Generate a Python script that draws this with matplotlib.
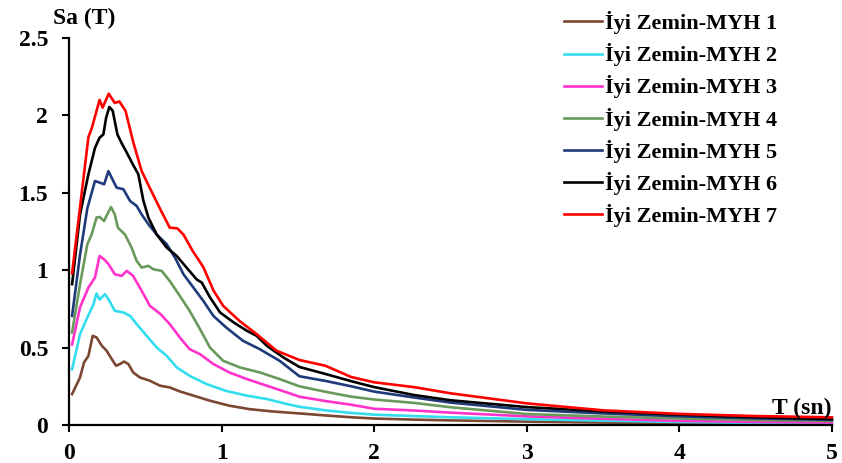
# spectral acceleration curves, Iyi Zemin MYH 1..7

import matplotlib
matplotlib.use("Agg")
import matplotlib.pyplot as plt

plt.rcParams['font.family'] = ['Liberation Serif', 'DejaVu Serif']
plt.rcParams['font.weight'] = 'bold'

labels = ["İyi Zemin-MYH 1", "İyi Zemin-MYH 2", "İyi Zemin-MYH 3", "İyi Zemin-MYH 4",
          "İyi Zemin-MYH 5", "İyi Zemin-MYH 6", "İyi Zemin-MYH 7"]
colors = ["#7B4632", "#33DDEE", "#FF33CC", "#6A9A5B", "#1F3A7A", "#000000", "#FF0000"]

# tail (same for all curves)
t_tail = [1.68, 1.85, 2.0, 2.26, 2.5, 3.0, 3.5, 4.0, 4.5, 5.0]

t1 = [0.02, 0.072, 0.098, 0.127, 0.155, 0.18, 0.215, 0.246, 0.28, 0.308, 0.334, 0.36, 0.389,
      0.42, 0.465, 0.53, 0.596, 0.66, 0.726, 0.815, 0.924, 1.05, 1.18, 1.33, 1.51]
sa1 = [0.2, 0.307, 0.404, 0.447, 0.576, 0.566, 0.512, 0.48, 0.426, 0.383, 0.394, 0.41, 0.394,
       0.34, 0.307, 0.286, 0.254, 0.243, 0.217, 0.19, 0.157, 0.125, 0.103, 0.088, 0.075]
tail1 = [0.062, 0.05, 0.042, 0.035, 0.03, 0.022, 0.016, 0.011, 0.007, 0.004]

t2 = [0.02, 0.072, 0.12, 0.16, 0.18, 0.2, 0.235, 0.258, 0.3, 0.356, 0.4, 0.443, 0.509,
      0.575, 0.64, 0.706, 0.79, 0.9, 1.03, 1.165, 1.296, 1.43, 1.51]
sa2 = [0.36, 0.587, 0.695, 0.78, 0.85, 0.81, 0.845, 0.813, 0.738, 0.727, 0.705, 0.652, 0.576,
       0.5, 0.447, 0.372, 0.318, 0.265, 0.22, 0.19, 0.168, 0.135, 0.118]
tail2 = [0.095, 0.078, 0.067, 0.058, 0.05, 0.038, 0.028, 0.02, 0.014, 0.009]

t3 = [0.02, 0.072, 0.127, 0.17, 0.2, 0.23, 0.258, 0.3, 0.345, 0.378, 0.42, 0.476, 0.53,
      0.6, 0.66, 0.726, 0.79, 0.858, 0.946, 1.05, 1.165, 1.296, 1.43, 1.51]
sa3 = [0.52, 0.76, 0.888, 0.953, 1.092, 1.07, 1.04, 0.974, 0.963, 0.996, 0.963, 0.867, 0.77,
       0.716, 0.652, 0.566, 0.49, 0.458, 0.394, 0.34, 0.297, 0.254, 0.21, 0.183]
tail3 = [0.155, 0.131, 0.105, 0.094, 0.08, 0.056, 0.04, 0.027, 0.02, 0.016]

t4 = [0.02, 0.072, 0.12, 0.148, 0.18, 0.2, 0.23, 0.25, 0.275, 0.3, 0.32, 0.367, 0.41, 0.443,
      0.476, 0.52, 0.552, 0.607, 0.66, 0.726, 0.79, 0.858, 0.924, 1.01, 1.12, 1.25, 1.38, 1.51]
sa4 = [0.598, 0.91, 1.168, 1.23, 1.34, 1.344, 1.318, 1.36, 1.408, 1.36, 1.275, 1.23, 1.146, 1.06,
       1.017, 1.028, 1.006, 0.996, 0.93, 0.834, 0.738, 0.62, 0.5, 0.415, 0.372, 0.34, 0.297, 0.25]
tail4 = [0.215, 0.183, 0.165, 0.143, 0.115, 0.071, 0.055, 0.042, 0.033, 0.027]

t5 = [0.02, 0.072, 0.12, 0.17, 0.2, 0.23, 0.258, 0.29, 0.312, 0.356, 0.4, 0.443, 0.476, 0.52,
      0.575, 0.64, 0.695, 0.75, 0.815, 0.88, 0.946, 1.03, 1.14, 1.25, 1.38, 1.51]
sa5 = [0.705, 1.1, 1.4, 1.576, 1.566, 1.555, 1.64, 1.576, 1.533, 1.523, 1.447, 1.415, 1.36, 1.297,
       1.23, 1.168, 1.08, 0.974, 0.888, 0.802, 0.705, 0.63, 0.544, 0.49, 0.415, 0.315]
tail5 = [0.285, 0.25, 0.216, 0.178, 0.145, 0.098, 0.075, 0.056, 0.043, 0.033]

t6 = [0.02, 0.072, 0.127, 0.17, 0.2, 0.225, 0.243, 0.264, 0.286, 0.317, 0.345, 0.378, 0.42,
      0.454, 0.487, 0.52, 0.575, 0.64, 0.706, 0.77, 0.837, 0.87, 0.924, 0.99, 1.08, 1.165,
      1.23, 1.296, 1.404, 1.51]
sa6 = [0.91, 1.36, 1.62, 1.79, 1.856, 1.877, 1.985, 2.054, 2.03, 1.877, 1.82, 1.76, 1.68,
       1.62, 1.45, 1.34, 1.23, 1.146, 1.092, 1.017, 0.94, 0.92, 0.824, 0.727, 0.662, 0.609,
       0.576, 0.512, 0.437, 0.375]
tail6 = [0.33, 0.283, 0.245, 0.194, 0.16, 0.116, 0.088, 0.067, 0.05, 0.038]

t7 = [0.02, 0.127, 0.15, 0.2, 0.22, 0.26, 0.3, 0.33, 0.37, 0.42, 0.476, 0.53, 0.6, 0.66,
      0.71, 0.75, 0.81, 0.88, 0.946, 1.01, 1.12, 1.23, 1.36, 1.51]
sa7 = [0.98, 1.86, 1.92, 2.1, 2.05, 2.14, 2.08, 2.09, 2.03, 1.83, 1.64, 1.53, 1.39, 1.275,
       1.27, 1.23, 1.125, 1.02, 0.87, 0.77, 0.67, 0.587, 0.48, 0.42]
tail7 = [0.383, 0.31, 0.276, 0.245, 0.205, 0.14, 0.095, 0.072, 0.058, 0.05]

all_t = [t1, t2, t3, t4, t5, t6, t7]
all_sa = [sa1, sa2, sa3, sa4, sa5, sa6, sa7]
all_tail = [tail1, tail2, tail3, tail4, tail5, tail6, tail7]

fig = plt.figure(figsize=(8.42, 4.63), dpi=100)
ax = fig.add_axes([0.082, 0.082, 0.906, 0.836])

for t, sa, tail, c, lab in zip(all_t, all_sa, all_tail, colors, labels):
    ax.plot(t + t_tail, sa + tail, color=c, lw=1.9, label=lab, clip_on=False)

ax.set_xlim(0, 5)
ax.set_ylim(0, 2.5)
ax.set_xticks([0, 1, 2, 3, 4, 5])
ax.set_yticks([0, 0.5, 1, 1.5, 2, 2.5])
ax.set_xticklabels(["0", "1", "2", "3", "4", "5"])
ax.set_yticklabels(["0", "0.5", "1", "1.5", "2", "2.5"])
ax.tick_params(labelsize=17, width=1.5, length=5)
ax.tick_params(axis="y", pad=10)
ax.tick_params(axis="x", pad=8)

for s in ["top", "right"]:
    ax.spines[s].set_visible(False)
for s in ["left", "bottom"]:
    ax.spines[s].set_linewidth(1.6)

fig.text(0.063, 0.96, "Sa (T)", fontsize=17, fontweight="bold", ha="left", va="center")
fig.text(0.988, 0.118, "T (sn)", fontsize=17, fontweight="bold", ha="right", va="center")

ax.legend(loc="upper left", bbox_to_anchor=(0.637, 1.092), frameon=False, fontsize=16,
          handlelength=1.7, handletextpad=0.15, labelspacing=0.41, borderaxespad=0)

fig.savefig("out.png", dpi=100)
